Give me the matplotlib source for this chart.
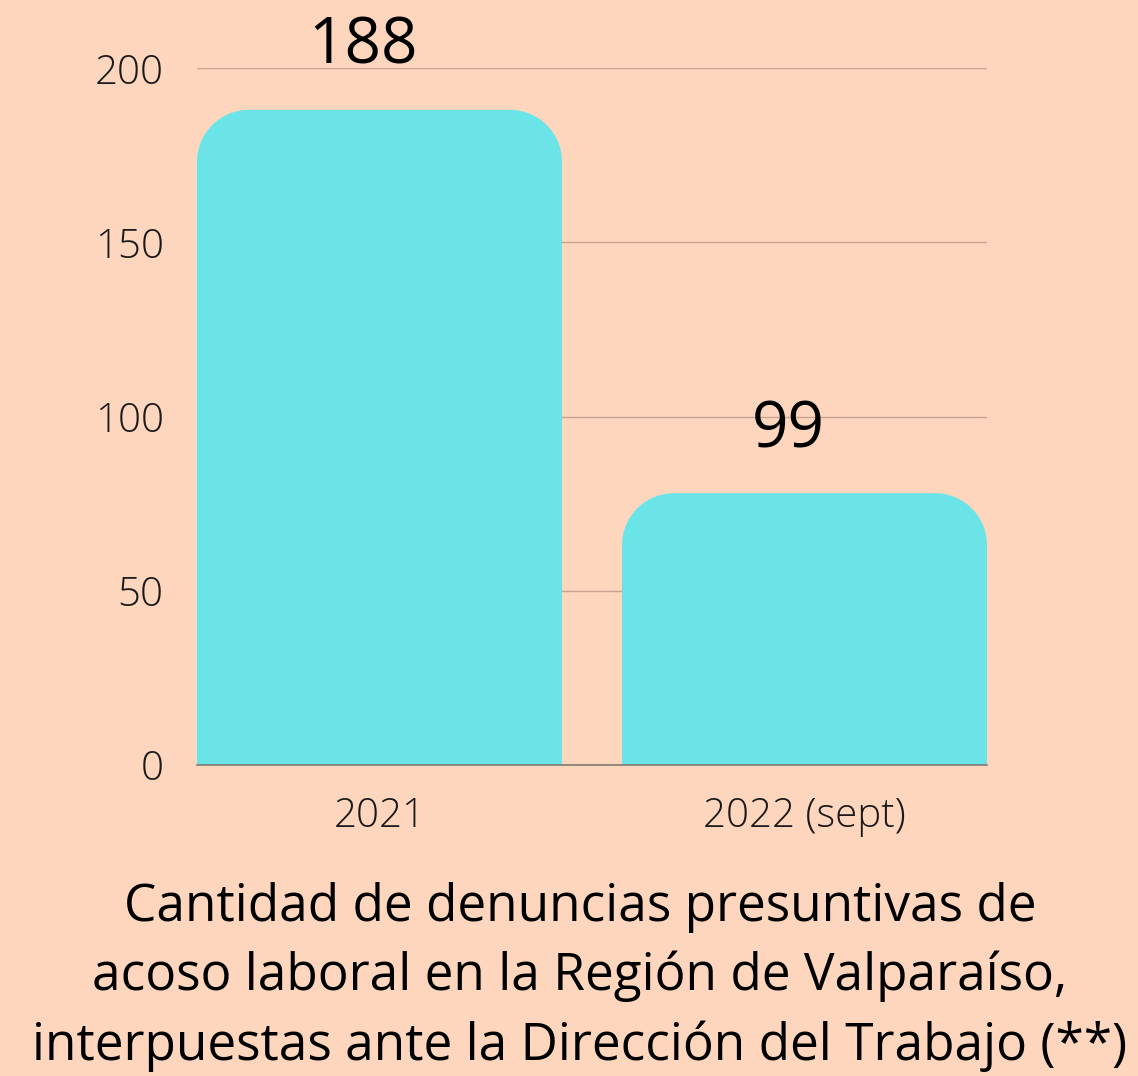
import matplotlib.pyplot as plt
from matplotlib.path import Path
from matplotlib.patches import PathPatch

# datos
categorias = ['2021', '2022 (sept)']
valores = [188, 78]          # altura dibujada de cada barra
etiquetas = ['188', '99']    # texto que muestra el gráfico
yticks = [0, 50, 100, 150, 200]
titulo = ('Cantidad de denuncias presuntivas de\n'
          'acoso laboral en la Región de Valparaíso,\n'
          'interpuestas ante la Dirección del Trabajo (**)')

fondo = '#FED6BE'
color_barra = '#6BE4E8'

plt.rcParams['font.family'] = ['Open Sans', 'DejaVu Sans']

fig = plt.figure(figsize=(11.38, 10.76), dpi=100, facecolor=fondo)
ax = fig.add_axes([197/1138, 311/1076, 790/1138, 697/1076])
ax.set_facecolor(fondo)

x = list(range(len(categorias)))
ancho = 365/425
bars = ax.bar(x, valores, width=ancho, color=color_barra, zorder=2)
ax.set_xlim(-ancho/2, len(categorias) - 1 + ancho/2)
ax.set_ylim(0, 200)

# esquinas redondeadas arriba
xpp = (ax.get_xlim()[1] - ax.get_xlim()[0]) / 790
ypp = 200 / 697
r = 52
k = 0.5523
for b in bars:
    x0, w, h = b.get_x(), b.get_width(), b.get_height()
    rx, ry = r * xpp, r * ypp
    verts = [(x0, 0), (x0, h - ry),
             (x0, h - ry + k*ry), (x0 + rx - k*rx, h), (x0 + rx, h),
             (x0 + w - rx, h),
             (x0 + w - rx + k*rx, h), (x0 + w, h - ry + k*ry), (x0 + w, h - ry),
             (x0 + w, 0), (x0, 0)]
    codes = [Path.MOVETO, Path.LINETO,
             Path.CURVE4, Path.CURVE4, Path.CURVE4,
             Path.LINETO,
             Path.CURVE4, Path.CURVE4, Path.CURVE4,
             Path.LINETO, Path.CLOSEPOLY]
    b.set_visible(False)
    ax.add_patch(PathPatch(Path(verts, codes), facecolor=color_barra, edgecolor='none', zorder=2))

for b, t in zip(bars, etiquetas):
    ax.annotate(t, (b.get_x() + b.get_width()/2, b.get_height()), xytext=(-12, 33),
                textcoords='offset points', ha='center', va='baseline',
                fontsize=46, color='black', annotation_clip=False)

ax.set_yticks(yticks)
ax.set_yticklabels([str(v) for v in yticks], fontsize=29, fontweight='light', color='#1a1a1a')
ax.set_xticks(x)
ax.set_xticklabels(categorias, fontsize=29, fontweight='light', color='#1a1a1a')
ax.tick_params(length=0)
ax.tick_params(axis='y', pad=24)
ax.tick_params(axis='x', pad=22)
ax.grid(axis='y', color='#C8A592', linewidth=1, zorder=0)
ax.set_axisbelow(True)
for s in ['top', 'right', 'left']:
    ax.spines[s].set_visible(False)
ax.spines['bottom'].set_color('#7E7A72')
ax.spines['bottom'].set_linewidth(1.2)
ax.spines['bottom'].set_zorder(3)

fig.text(580/1138, 1 - 977/1076, titulo, ha='center', va='center',
         fontsize=37, linespacing=1.46, color='black')

fig.savefig('out.png', dpi=100, facecolor=fondo)
